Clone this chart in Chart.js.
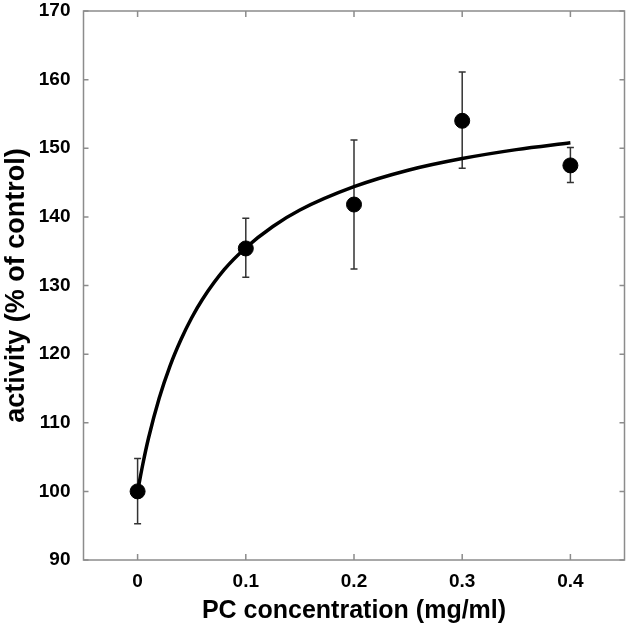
<!DOCTYPE html>
<html>
<head>
<meta charset="utf-8">
<script src="https://cdn.jsdelivr.net/npm/chart.js@4"></script>
<style>
  html, body { margin: 0; padding: 0; background: #fff; }
  #wrap { width: 633px; height: 632px; }
</style>
</head>
<body>
<div id="wrap"><canvas id="myChart"></canvas></div>
<script>
// measured points
let concValues = [0, 0.1, 0.2, 0.3, 0.4];
let activityValues = [100, 135.4, 141.8, 154.0, 147.5];
let errUpper = [104.8, 139.8, 151.2, 161.1, 150.1];
let errLower = [95.3, 131.2, 132.4, 147.1, 145.0];

// fitted curve
let curveX = [0, 0.005, 0.01, 0.02, 0.03, 0.04, 0.05, 0.06, 0.08, 0.1, 0.125, 0.15, 0.2, 0.25, 0.3, 0.35, 0.4];
let curveY = [100, 104.1, 107.7, 113.6, 118.3, 122.1, 125.3, 128.0, 132.3, 135.5, 138.6, 141.0, 144.4, 146.8, 148.5, 149.8, 150.8];

let xTicks = [0, 0.1, 0.2, 0.3, 0.4];
let yTicks = [90, 100, 110, 120, 130, 140, 150, 160, 170];

let frameColor = "#8c8c8c";

let errorBarPlugin = {
  id: "errorBars",
  beforeDatasetsDraw(chart) {
    let ctx = chart.ctx;
    let x = chart.scales.x;
    let y = chart.scales.y;
    ctx.save();
    ctx.strokeStyle = "#333";
    ctx.lineWidth = 1.5;
    for (let i = 0; i < concValues.length; i++) {
      let px = x.getPixelForValue(concValues[i]);
      let top = y.getPixelForValue(errUpper[i]);
      let bot = y.getPixelForValue(errLower[i]);
      ctx.beginPath();
      ctx.moveTo(px, top);
      ctx.lineTo(px, bot);
      ctx.moveTo(px - 3.5, top);
      ctx.lineTo(px + 3.5, top);
      ctx.moveTo(px - 3.5, bot);
      ctx.lineTo(px + 3.5, bot);
      ctx.stroke();
    }
    ctx.restore();
  },
};

let framePlugin = {
  id: "frame",
  afterDraw(chart) {
    let ctx = chart.ctx;
    let a = chart.chartArea;
    let x = chart.scales.x;
    let y = chart.scales.y;
    ctx.save();
    ctx.strokeStyle = frameColor;
    ctx.lineWidth = 1.5;
    ctx.strokeRect(a.left, a.top, a.right - a.left, a.bottom - a.top);
    ctx.beginPath();
    for (let v of xTicks) {
      let px = x.getPixelForValue(v);
      ctx.moveTo(px, a.bottom);
      ctx.lineTo(px, a.bottom - 6);
      ctx.moveTo(px, a.top);
      ctx.lineTo(px, a.top + 6);
    }
    for (let v of yTicks) {
      let py = y.getPixelForValue(v);
      ctx.moveTo(a.left, py);
      ctx.lineTo(a.left + 5, py);
      ctx.moveTo(a.right, py);
      ctx.lineTo(a.right - 5, py);
    }
    ctx.stroke();
    ctx.restore();
  },
};

let curvePoints = [];
for (let i = 0; i < curveX.length; i++) {
  curvePoints[i] = { x: curveX[i], y: curveY[i] };
}
let dataPoints = [];
for (let i = 0; i < concValues.length; i++) {
  dataPoints[i] = { x: concValues[i], y: activityValues[i] };
}

let ctx1 = document.getElementById("myChart").getContext("2d");

const myChart = new Chart(ctx1, {
  type: "scatter",
  data: {
    datasets: [
      {
        type: "line",
        data: curvePoints,
        borderColor: "#000",
        borderWidth: 3.5,
        pointRadius: 0,
        cubicInterpolationMode: "monotone",
        fill: false,
        order: 2,
      },
      {
        data: dataPoints,
        backgroundColor: "#000",
        borderColor: "#000",
        pointRadius: 7.5,
        order: 1,
      },
    ],
  },
  options: {
    responsive: true,
    maintainAspectRatio: false,
    animation: false,
    layout: { padding: { top: 11, right: 1.5 } },
    plugins: {
      legend: { display: false },
      tooltip: { enabled: false },
    },
    scales: {
      x: {
        type: "linear",
        min: -0.05,
        max: 0.45,
        afterBuildTicks: (scale) => {
          scale.ticks = xTicks.map((v) => ({ value: v }));
        },
        afterFit: (scale) => {
          scale.height = 72;
          scale.paddingLeft = 0;
          scale.paddingRight = 0;
        },
        grid: { display: false, drawTicks: false },
        border: { display: false },
        ticks: {
          padding: 10,
          color: "#000",
          font: { family: "Liberation Sans", size: 19, weight: "bold" },
          callback: (v) => String(v),
        },
        title: {
          display: true,
          text: "PC concentration (mg/ml)",
          color: "#000",
          padding: { top: 0, bottom: 6 },
          font: { family: "Liberation Sans", size: 25, weight: "bold" },
        },
      },
      y: {
        min: 90,
        max: 170,
        afterBuildTicks: (scale) => {
          scale.ticks = yTicks.map((v) => ({ value: v }));
        },
        afterFit: (scale) => {
          scale.width = 83.5;
          scale.paddingTop = 0;
          scale.paddingBottom = 0;
        },
        grid: { display: false, drawTicks: false },
        border: { display: false },
        ticks: {
          padding: 13,
          color: "#000",
          font: { family: "Liberation Sans", size: 19, weight: "bold" },
        },
        title: {
          display: true,
          text: "activity (% of control)",
          color: "#000",
          padding: { top: 0, bottom: 0 },
          font: { family: "Liberation Sans", size: 27, weight: "bold" },
        },
      },
    },
  },
  plugins: [errorBarPlugin, framePlugin],
});
</script>
</body>
</html>
